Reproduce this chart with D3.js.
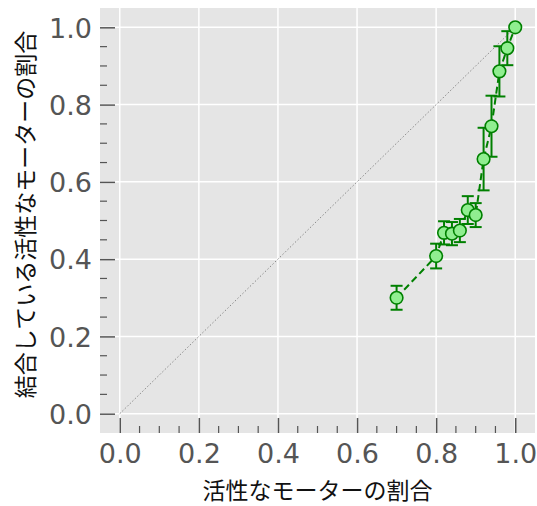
<!DOCTYPE html>
<html>
<head>
<meta charset="utf-8">
<script src="https://cdn.jsdelivr.net/npm/d3@7"></script>
<style>
  body { margin: 0; background: #fff; }
  text { font-family: "DejaVu Sans", sans-serif; }
  .cjk { font-family: "Noto Sans CJK JP", sans-serif; }
</style>
</head>
<body>
<div class="display"></div>
<script>
const WIDTH = 537;
const HEIGHT = 506;

// fraction of active motors (x) vs fraction of bound active motors (y)
const activeFrac = [0.70, 0.80, 0.82, 0.84, 0.86, 0.88, 0.90, 0.92, 0.94, 0.96, 0.98, 1.00];
const boundFrac  = [0.300, 0.408, 0.468, 0.466, 0.474, 0.527, 0.514, 0.659, 0.744, 0.886, 0.946, 1.000];
const boundErr   = [0.031, 0.032, 0.030, 0.030, 0.030, 0.036, 0.031, 0.081, 0.079, 0.065, 0.044, 0.0];
const majorTicks = [0, 0.2, 0.4, 0.6, 0.8, 1.0];

const xLabel = '活性なモーターの割合';
const yLabel = '結合している活性なモーターの割合';

const plot = { left: 100, right: 535, top: 8, bottom: 433 };

const svg = d3.select('.display')
  .append('svg')
  .attr('width', WIDTH)
  .attr('height', HEIGHT);

const x = d3.scaleLinear().domain([-0.05, 1.05]).range([plot.left, plot.right]);
const y = d3.scaleLinear().domain([-0.05, 1.05]).range([plot.bottom, plot.top]);

const minorTicks = d3.range(0, 1.0001, 0.05).filter(t => !majorTicks.some(m => Math.abs(m - t) < 1e-6));

// background
svg.append('rect')
  .attr('x', plot.left).attr('y', plot.top)
  .attr('width', plot.right - plot.left)
  .attr('height', plot.bottom - plot.top)
  .attr('fill', '#e5e5e5');

// grid
const grid = svg.append('g');
grid.selectAll('.vg').data(majorTicks).enter().append('line')
  .attr('x1', d => x(d)).attr('x2', d => x(d))
  .attr('y1', plot.top).attr('y2', plot.bottom)
  .attr('stroke', '#fff').attr('stroke-width', 1.5);
grid.selectAll('.hg').data(majorTicks).enter().append('line')
  .attr('y1', d => y(d)).attr('y2', d => y(d))
  .attr('x1', plot.left).attr('x2', plot.right)
  .attr('stroke', '#fff').attr('stroke-width', 1.5);

// axes with inward ticks
const xAxis = svg.append('g')
  .attr('transform', `translate(0,${plot.bottom})`)
  .call(d3.axisBottom(x).tickValues(majorTicks).tickSize(-15).tickPadding(10).tickFormat(d3.format('.1f')));
const yAxis = svg.append('g')
  .attr('transform', `translate(${plot.left},0)`)
  .call(d3.axisLeft(y).tickValues(majorTicks).tickSize(-15).tickPadding(8).tickFormat(d3.format('.1f')));

[xAxis, yAxis].forEach(a => {
  a.select('.domain').remove();
  a.selectAll('line').attr('stroke', '#555').attr('stroke-width', 1.5);
  a.selectAll('text').attr('fill', '#555').style('font-size', '27px')
    .style('font-family', '"DejaVu Sans", sans-serif');
});
yAxis.selectAll('text').attr('dy', '0.36em');
xAxis.selectAll('text').attr('dy', '0.73em');

svg.append('g').selectAll('line').data(minorTicks).enter().append('line')
  .attr('x1', d => x(d)).attr('x2', d => x(d))
  .attr('y1', plot.bottom).attr('y2', plot.bottom - 7)
  .attr('stroke', '#555').attr('stroke-width', 1.2);
svg.append('g').selectAll('line').data(minorTicks).enter().append('line')
  .attr('y1', d => y(d)).attr('y2', d => y(d))
  .attr('x1', plot.left).attr('x2', plot.left + 7)
  .attr('stroke', '#555').attr('stroke-width', 1.2);

// diagonal reference
svg.append('line')
  .attr('x1', x(0)).attr('y1', y(0))
  .attr('x2', x(1)).attr('y2', y(1))
  .attr('stroke', '#888').attr('stroke-width', 1)
  .attr('stroke-dasharray', '1.5,2');

const pts = activeFrac.map((v, i) => ({ x: v, y: boundFrac[i], e: boundErr[i] }));

// dashed connecting line
svg.append('path')
  .datum(pts)
  .attr('fill', 'none')
  .attr('stroke', '#008000')
  .attr('stroke-width', 2)
  .attr('stroke-dasharray', '7,4')
  .attr('d', d3.line().x(d => x(d.x)).y(d => y(d.y)));

// error bars
const eb = svg.append('g').attr('stroke', '#008000').attr('stroke-width', 2);
const withErr = pts.filter(d => d.e > 0);
eb.selectAll('.stem').data(withErr).enter().append('line')
  .attr('x1', d => x(d.x)).attr('x2', d => x(d.x))
  .attr('y1', d => y(d.y - d.e)).attr('y2', d => y(d.y + d.e));
eb.selectAll('.capT').data(withErr).enter().append('line')
  .attr('x1', d => x(d.x) - 6).attr('x2', d => x(d.x) + 6)
  .attr('y1', d => y(d.y + d.e)).attr('y2', d => y(d.y + d.e));
eb.selectAll('.capB').data(withErr).enter().append('line')
  .attr('x1', d => x(d.x) - 6).attr('x2', d => x(d.x) + 6)
  .attr('y1', d => y(d.y - d.e)).attr('y2', d => y(d.y - d.e));

// markers
svg.append('g').selectAll('circle').data(pts).enter().append('circle')
  .attr('cx', d => x(d.x)).attr('cy', d => y(d.y))
  .attr('r', 6.3)
  .attr('fill', '#90ee90')
  .attr('stroke', '#008000')
  .attr('stroke-width', 1.6);

// axis labels
svg.append('text')
  .attr('class', 'cjk')
  .attr('x', (plot.left + plot.right) / 2)
  .attr('y', 489)
  .attr('text-anchor', 'middle')
  .attr('dominant-baseline', 'central')
  .style('font-size', '23px')
  .attr('fill', '#111')
  .text(xLabel);

svg.append('text')
  .attr('class', 'cjk')
  .attr('transform', `translate(24,${(plot.top + plot.bottom) / 2 - 6}) rotate(-90)`)
  .attr('text-anchor', 'middle')
  .attr('dominant-baseline', 'central')
  .style('font-size', '23px')
  .attr('fill', '#111')
  .text(yLabel);
</script>
</body>
</html>
